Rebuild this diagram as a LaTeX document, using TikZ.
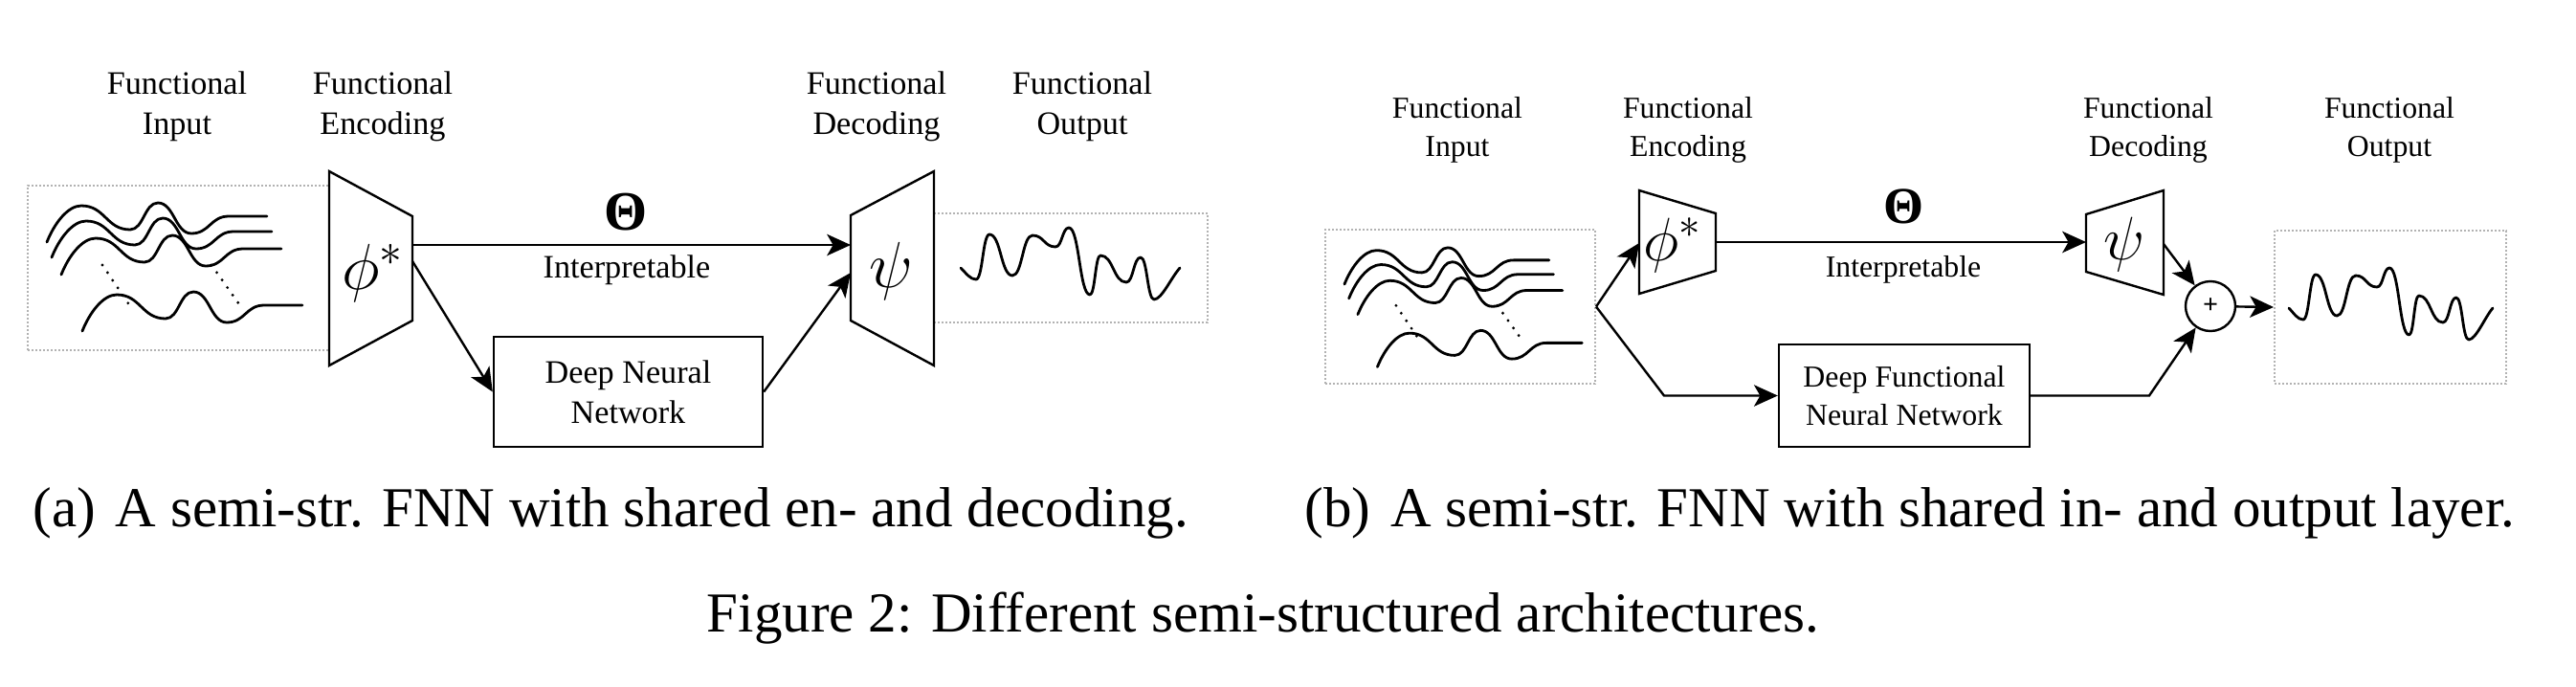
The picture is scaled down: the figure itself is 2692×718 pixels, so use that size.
\RequirePackage{fix-cm}
\documentclass[tikz,border=0pt]{standalone}
\usepackage{fontspec}
\setmainfont{Liberation Serif}
\usetikzlibrary{arrows.meta}
\tikzset{
  ln/.style={line width=0.6pt},
  arr/.style={ln,-{Stealth[length=6.2pt,width=5.6pt,inset=1.6pt]}},
  iobox/.style={draw=black!30, line width=0.5pt, dash pattern=on 0.5pt off 0.5pt, inner sep=0pt},
  trap/.style={ln, fill=white, line join=miter},
  crv/.style={line width=0.7pt, line cap=round, line join=round},
  dotln/.style={line width=0.8pt, line cap=round, dash pattern=on 0pt off 2.4pt},
  lblA/.style={font=\fontsize{8.55}{10.5}\selectfont, align=center, inner sep=0pt},
  lblB/.style={font=\fontsize{7.95}{10}\selectfont, align=center, inner sep=0pt},
  mathA/.style={font=\fontsize{17}{20}\selectfont, inner sep=0pt},
  mathB/.style={font=\fontsize{16}{19}\selectfont, inner sep=0pt},
  nnbox/.style={draw, ln, align=center, inner sep=0pt},
  capt/.style={font=\fontsize{14.75}{17}\selectfont, anchor=base west, inner sep=0pt},
  pics/inwaves/.style={code={
    \foreach \dx/\dy in {0/0, 5/16, 15/34, 37/93} {
      \begin{scope}[shift={(\dx,\dy)}]
        \draw[crv] (0,0) .. controls (8,-20) and (22,-38) .. (36,-38)
          .. controls (61,-38) and (62,-13) .. (87,-13)
          .. controls (101,-13) and (102,-41) .. (116,-41)
          .. controls (133,-41) and (134,-9) .. (151,-9)
          .. controls (170,-9) and (171,-27) .. (190,-27) -- (230,-27);
      \end{scope}
    }
    \draw[dotln] (58,24) -- (85,64);
    \draw[dotln] (172,24) -- (201,65);
  }},
  pics/outwave/.style={code={
    \draw[crv] (0,0) .. controls (6,6) and (10,12) .. (16,12)
      .. controls (23,12) and (23,-35) .. (30,-35)
      .. controls (42,-35) and (42,8) .. (54,8)
      .. controls (64.5,8) and (64.5,-34) .. (75,-34)
      .. controls (87,-34) and (87,-22) .. (99,-22)
      .. controls (106,-22) and (106,-42) .. (113,-42)
      .. controls (124,-42) and (124,28) .. (135,28)
      .. controls (140.5,28) and (140.5,-13) .. (146,-13)
      .. controls (159.5,-13) and (159.5,15) .. (173,15)
      .. controls (180.5,15) and (180.5,-11) .. (188,-11)
      .. controls (195,-11) and (195,33) .. (202,33)
      .. controls (210,33) and (220,10) .. (229,0);
  }}
}
\begin{document}
\begin{tikzpicture}[x=0.25pt,y=-0.25pt]
\useasboundingbox (0,0) rectangle (2692,718);

% ---------------- (a) ----------------
\node[lblA] (labA1) at (185,111) {Functional\\Input};
\node[lblA] (labA2) at (400,111) {Functional\\Encoding};
\node[lblA] (labA3) at (916,111) {Functional\\Decoding};
\node[lblA] (labA4) at (1131,111) {Functional\\Output};

\node[iobox, minimum width=78.75pt, minimum height=43pt] (inA) at (186.5,280) {};
\node[iobox, minimum width=71.5pt, minimum height=28.5pt] (outA) at (1119,280) {};
\draw[trap] (344,179) -- (431,226) -- (431,335) -- (344,382) -- cycle;
\draw[trap] (889,225) -- (976,179) -- (976,382) -- (889,335) -- cycle;
\pic at (49,253) {inwaves};
\pic at (1004,280) {outwave};
\node[mathA] (phiA) at (390,285) {$\phi^*$};
\node[mathA] (psiA) at (931,283) {$\psi$};

\coordinate (encAo1) at (431,256);
\coordinate (encAo2) at (431,273);
\coordinate (decAi1) at (889,256);
\coordinate (decAi2) at (889,285);
\node[nnbox, lblA, minimum width=70.25pt, minimum height=28.75pt] (dnnA) at (656.5,409.5) {Deep Neural\\Network};
\draw[arr] (encAo1) -- (decAi1);
\draw[arr] (encAo2) -- (dnnA.west);
\draw[arr] (dnnA.east) -- (decAi2);
\node[font=\bfseries\fontsize{14.5}{16}\selectfont, inner sep=0pt] (thA) at (654,222) {Θ};
\node[lblA] (intA) at (655,282) {Interpretable};

% ---------------- (b) ----------------
\node[lblB] (labB1) at (1523,135.5) {Functional\\Input};
\node[lblB] (labB2) at (1764,135.5) {Functional\\Encoding};
\node[lblB] (labB3) at (2245,135.5) {Functional\\Decoding};
\node[lblB] (labB4) at (2497,135.5) {Functional\\Output};

\node[iobox, minimum width=70.5pt, minimum height=40.25pt] (inB) at (1526,320.5) {};
\node[iobox, minimum width=60.5pt, minimum height=40pt] (outB) at (2498,321) {};
\draw[trap] (1713,199) -- (1793,223) -- (1793,283) -- (1713,307) -- cycle;
\draw[trap] (2180,224) -- (2261,199) -- (2261,308) -- (2180,284) -- cycle;
\pic[scale=0.93] at (1405,297) {inwaves};
\pic[xscale=0.93] at (2392,322) {outwave};
\node[mathB] (phiB) at (1748,256) {$\phi^*$};
\node[mathB] (psiB) at (2220,255) {$\psi$};
\node[circle, draw, ln, minimum size=13pt, inner sep=0pt, font=\bfseries\fontsize{7}{8}\selectfont] (plus) at (2310,320) {+};
\node[nnbox, lblB, minimum width=65.5pt, minimum height=26.75pt] (dfnn) at (1990,413.5) {Deep Functional\\Neural Network};

\coordinate (encBi) at (1713,254);
\coordinate (encBo) at (1793,253);
\coordinate (decBi) at (2180,253);
\coordinate (decBo) at (2261,255);
\coordinate (bendB1) at (1739,413.5);
\coordinate (bendB2) at (2246,413.5);
\draw[arr] (inB.east) -- (encBi);
\draw[arr] (inB.east) -- (bendB1) -- (dfnn.west);
\draw[arr] (encBo) -- (decBi);
\draw[arr] (decBo) -- (plus);
\draw[arr] (dfnn.east) -- (bendB2) -- (plus);
\draw[arr] (plus) -- (outB.west);
\node[font=\bfseries\fontsize{13.5}{15}\selectfont, inner sep=0pt] (thB) at (1989,216) {Θ};
\node[lblB] (intB) at (1989,282) {Interpretable};

% ---------------- captions ----------------
\node[capt] (capA) at (34,550) {(a)\hspace{0.35em}A semi-str. FNN with shared en- and decoding.};
\node[capt] (capB) at (1363,550) {(b)\hspace{0.35em}A semi-str. FNN with shared in- and output layer.};
\node[capt] (capF) at (738,660) {Figure 2: Different semi-structured architectures.};
\end{tikzpicture}
\end{document}
